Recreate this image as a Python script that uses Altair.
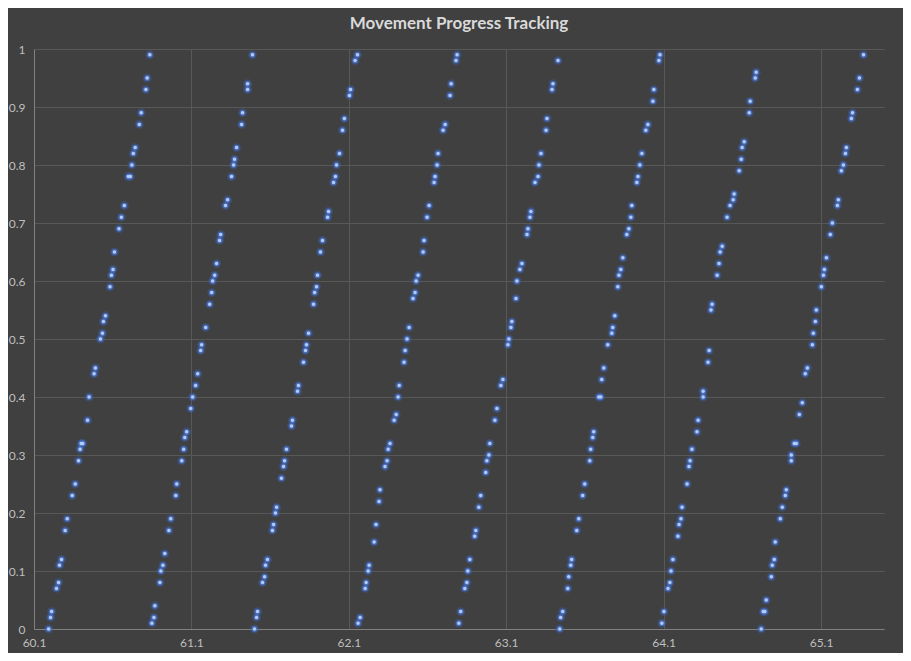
import altair as alt
import pandas as pd

# Each cycle: progress values (y) and position values (x)
c1_y = [0.00,0.02,0.03,0.07,0.08,0.11,0.12,0.17,0.19,0.23,0.25,0.29,0.31,0.32,0.32,0.36,0.40,0.44,0.45,0.50,0.51,0.53,0.54,0.59,0.61,0.62,0.65,0.69,0.71,0.73,0.78,0.78,0.80,0.82,0.83,0.87,0.89,0.93,0.95,0.99]
c1_x = [60.193,60.205,60.212,60.243,60.256,60.262,60.275,60.298,60.311,60.343,60.362,60.383,60.393,60.400,60.410,60.440,60.450,60.482,60.490,60.522,60.535,60.541,60.554,60.583,60.592,60.602,60.611,60.640,60.655,60.674,60.699,60.712,60.722,60.731,60.743,60.769,60.781,60.811,60.819,60.836]

c2_y = [0.01,0.02,0.04,0.08,0.10,0.11,0.13,0.17,0.19,0.23,0.25,0.29,0.31,0.33,0.34,0.38,0.40,0.42,0.44,0.48,0.49,0.52,0.56,0.58,0.60,0.61,0.63,0.67,0.68,0.73,0.74,0.78,0.80,0.81,0.83,0.87,0.89,0.93,0.94,0.99]
c2_x = [60.849,60.862,60.868,60.900,60.906,60.919,60.931,60.957,60.969,61.001,61.007,61.039,61.051,61.058,61.070,61.096,61.108,61.127,61.140,61.159,61.165,61.191,61.216,61.229,61.235,61.248,61.260,61.279,61.286,61.317,61.330,61.355,61.368,61.374,61.387,61.419,61.425,61.457,61.457,61.488]

c3_y = [0.00,0.02,0.03,0.08,0.09,0.11,0.12,0.17,0.18,0.20,0.21,0.26,0.28,0.29,0.31,0.35,0.36,0.41,0.42,0.46,0.48,0.49,0.51,0.56,0.58,0.59,0.61,0.65,0.67,0.71,0.72,0.77,0.78,0.80,0.82,0.86,0.88,0.92,0.93,0.98,0.99]
c3_x = [61.501,61.514,61.520,61.552,61.565,61.571,61.583,61.615,61.622,61.634,61.641,61.672,61.685,61.692,61.704,61.736,61.742,61.774,61.780,61.812,61.825,61.831,61.844,61.876,61.883,61.895,61.901,61.920,61.933,61.965,61.971,62.003,62.015,62.022,62.041,62.060,62.072,62.104,62.111,62.140,62.155]

c4_y = [0.01,0.02,0.07,0.08,0.10,0.11,0.15,0.18,0.22,0.24,0.28,0.29,0.31,0.32,0.36,0.37,0.40,0.42,0.46,0.48,0.50,0.52,0.57,0.58,0.60,0.61,0.65,0.67,0.71,0.73,0.77,0.78,0.80,0.82,0.86,0.87,0.92,0.94,0.98,0.99]
c4_x = [62.159,62.172,62.204,62.210,62.223,62.229,62.261,62.273,62.292,62.298,62.330,62.343,62.350,62.362,62.388,62.401,62.413,62.420,62.451,62.458,62.470,62.483,62.508,62.521,62.528,62.540,62.572,62.578,62.597,62.610,62.642,62.648,62.661,62.667,62.699,62.712,62.743,62.750,62.781,62.788]

c5_y = [0.01,0.03,0.07,0.08,0.10,0.12,0.16,0.17,0.21,0.23,0.27,0.29,0.30,0.32,0.36,0.38,0.42,0.43,0.49,0.50,0.52,0.53,0.57,0.60,0.62,0.63,0.68,0.69,0.71,0.72,0.77,0.78,0.80,0.82,0.86,0.88,0.93,0.94,0.98]
c5_x = [62.799,62.811,62.837,62.850,62.856,62.869,62.900,62.907,62.926,62.938,62.970,62.977,62.990,62.996,63.028,63.041,63.066,63.079,63.111,63.117,63.130,63.136,63.162,63.168,63.187,63.200,63.232,63.238,63.251,63.257,63.283,63.302,63.308,63.321,63.353,63.359,63.391,63.397,63.429]

c6_y = [0.00,0.02,0.03,0.07,0.09,0.11,0.12,0.17,0.19,0.23,0.25,0.29,0.31,0.33,0.34,0.40,0.40,0.43,0.45,0.49,0.51,0.52,0.54,0.59,0.61,0.62,0.64,0.68,0.69,0.71,0.73,0.77,0.78,0.80,0.82,0.86,0.87,0.91,0.93,0.98,0.99]
c6_x = [63.440,63.446,63.459,63.491,63.497,63.510,63.516,63.548,63.561,63.586,63.599,63.631,63.637,63.650,63.656,63.688,63.701,63.707,63.720,63.745,63.771,63.777,63.790,63.809,63.816,63.828,63.841,63.866,63.879,63.892,63.898,63.930,63.937,63.949,63.962,63.987,64.000,64.032,64.038,64.070,64.077]

c7_y = [0.01,0.03,0.07,0.08,0.10,0.12,0.16,0.18,0.19,0.21,0.25,0.28,0.29,0.31,0.34,0.36,0.40,0.41,0.46,0.48,0.55,0.56,0.61,0.63,0.65,0.66,0.71,0.73,0.74,0.75,0.79,0.81,0.83,0.84,0.89,0.91,0.95,0.96]
c7_x = [64.089,64.102,64.128,64.140,64.147,64.159,64.191,64.198,64.210,64.217,64.249,64.261,64.268,64.280,64.312,64.319,64.351,64.351,64.382,64.389,64.401,64.408,64.440,64.452,64.459,64.472,64.503,64.522,64.542,64.548,64.580,64.593,64.599,64.612,64.644,64.650,64.682,64.688]

c8_y = [0.00,0.03,0.03,0.05,0.09,0.11,0.12,0.15,0.19,0.21,0.23,0.24,0.29,0.30,0.32,0.32,0.37,0.39,0.44,0.45,0.49,0.51,0.53,0.55,0.59,0.61,0.62,0.64,0.68,0.70,0.73,0.74,0.79,0.80,0.82,0.83,0.88,0.89,0.93,0.95,0.99]
c8_x = [64.720,64.733,64.743,64.752,64.784,64.790,64.803,64.809,64.841,64.854,64.873,64.879,64.911,64.911,64.930,64.943,64.962,64.981,65.000,65.013,65.045,65.051,65.064,65.070,65.102,65.115,65.121,65.134,65.159,65.172,65.204,65.210,65.229,65.242,65.255,65.261,65.293,65.300,65.331,65.344,65.370]

x_ticks = [60.1, 61.1, 62.1, 63.1, 64.1, 65.1]
y_ticks = [0, 0.1, 0.2, 0.3, 0.4, 0.5, 0.6, 0.7, 0.8, 0.9, 1.0]

xs = c1_x + c2_x + c3_x + c4_x + c5_x + c6_x + c7_x + c8_x
ys = c1_y + c2_y + c3_y + c4_y + c5_y + c6_y + c7_y + c8_y
df = pd.DataFrame({"x": xs, "y": ys})

FONT = "Lato"
BG = "#404040"

xenc = alt.X("x:Q",
             scale=alt.Scale(domain=[60.1, 65.5], nice=False, zero=False),
             axis=alt.Axis(values=x_ticks, format=".1f", title=None, ticks=False,
                           grid=True, gridColor="#585858", domainColor="#808080",
                           labelColor="#bfbfbf", labelFont=FONT, labelFontSize=12,
                           labelPadding=8, labelFlush=False))
yenc = alt.Y("y:Q",
             scale=alt.Scale(domain=[0, 1], nice=False),
             axis=alt.Axis(values=y_ticks, format=".1~f", title=None, ticks=False,
                           grid=True, gridColor="#585858", domainColor="#808080",
                           labelColor="#bfbfbf", labelFont=FONT, labelFontSize=12,
                           labelPadding=9))

base = alt.Chart(df)
glow = base.mark_circle(size=80, color="#3b64c0", opacity=0.35).encode(x=xenc, y=yenc)
mid = base.mark_circle(size=34, color="#4d7ad6", opacity=0.7).encode(x="x:Q", y="y:Q")
core = base.mark_circle(size=12, color="#b3cbf6", opacity=1).encode(x="x:Q", y="y:Q")

chart = alt.layer(glow, mid, core).properties(
    width=850, height=580,
    autosize="none",
    padding={"left": 26, "top": 41, "right": 19, "bottom": 24},
    background=BG,
    title=alt.TitleParams("Movement Progress Tracking", font=FONT, fontSize=17,
                          fontWeight="bold", color="#d9d9d9", anchor="middle",
                          offset=10),
).configure_view(stroke=None)

chart.save("out.html", embed_options={"renderer": "svg", "actions": False})
